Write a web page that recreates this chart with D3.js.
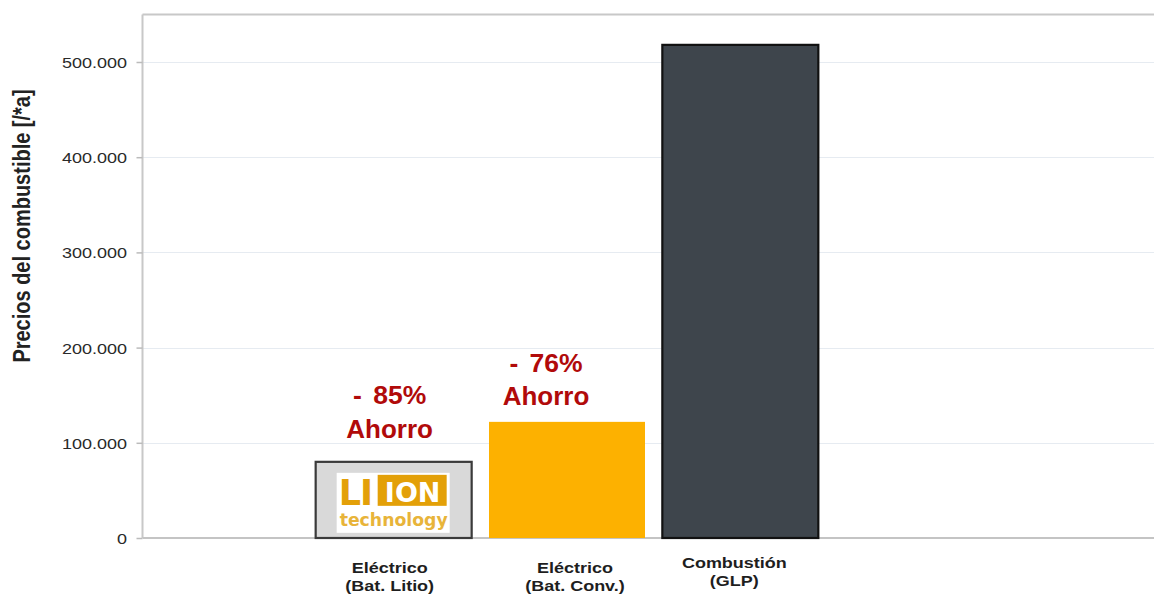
<!DOCTYPE html>
<html>
<head>
<meta charset="utf-8">
<script src="https://cdn.jsdelivr.net/npm/d3@7"></script>
<style>
  html, body { margin: 0; padding: 0; background: #fff; }
  svg { display: block; font-family: Arial, "Liberation Sans", sans-serif; }
</style>
</head>
<body>
<svg id="chart" width="1154" height="595"></svg>
<script>
const categories = ["Eléctrico\n(Bat. Litio)", "Eléctrico\n(Bat. Conv.)", "Combustión\n(GLP)"];
const values = [80000, 122000, 518000];
const barFills = ["#d9d9d9", "#fdb100", "#3e454c"];
const barStrokes = ["#3a3a3a", "none", "#111111"];
const savingsPct = ["- 85%", "- 76%", null];
const savingsWord = "Ahorro";
const yTicks = [0, 100000, 200000, 300000, 400000, 500000];
const yTitle = "Precios del combustible [/*a]";

const W = 1154, H = 595;
const SX = 1.2; // horizontal stretch of the reference's text
const plot = { left: 142.5, top: 14.5, bottom: 538 };

const svg = d3.select("#chart");

const y = d3.scaleLinear().domain([0, 500000]).range([plot.bottom, 62]);
const x = d3.scaleBand().domain(categories).range([307, 827]).paddingInner(0.1).paddingOuter(0.05);

const fmt = v => d3.format(",")(v).replace(/,/g, ".");

function stretchedText(parent, px, py, txt, opts) {
  const g = parent.append("g").attr("transform", `translate(${px},${py}) scale(${opts.sx || SX},1)`);
  return g.append("text").attr("x", 0).attr("y", 0)
    .attr("text-anchor", opts.anchor || "middle")
    .attr("font-size", opts.size).attr("font-weight", opts.weight || "normal")
    .attr("fill", opts.fill || "#222").text(txt);
}

// plot frame top
svg.append("line").attr("x1", plot.left).attr("x2", W).attr("y1", plot.top).attr("y2", plot.top)
  .attr("stroke", "#c8c8c8").attr("stroke-width", 2);

// gridlines
svg.append("g").selectAll("line").data(yTicks.filter(d => d > 0)).join("line")
  .attr("x1", plot.left).attr("x2", W)
  .attr("y1", d => Math.round(y(d)) + 0.5).attr("y2", d => Math.round(y(d)) + 0.5)
  .attr("stroke", "#e6ebf1").attr("stroke-width", 1.2);

// y axis
const yAxis = d3.axisLeft(y).tickValues(yTicks).tickFormat(fmt).tickSize(6).tickPadding(9.5);
const gy = svg.append("g").attr("transform", `translate(${plot.left},0)`).call(yAxis);
gy.select(".domain").attr("stroke", "#c8c8c8").attr("stroke-width", 2)
  .attr("d", `M0,${plot.top}V${plot.bottom}`);
gy.selectAll(".tick line").attr("stroke", "#bbbbbb").attr("stroke-width", 1.5);
gy.selectAll(".tick text").attr("font-size", 15).attr("fill", "#2a2a2a")
  .attr("font-family", "Arial, 'Liberation Sans', sans-serif")
  .attr("x", -15.5 / SX).attr("dy", "0.36em")
  .attr("transform", `scale(${SX},1)`);

// baseline
svg.append("line").attr("x1", plot.left).attr("x2", W).attr("y1", plot.bottom).attr("y2", plot.bottom)
  .attr("stroke", "#c4c4c4").attr("stroke-width", 2);

// y title
svg.append("text").attr("transform", `translate(30,226) scale(${SX},1) rotate(-90)`)
  .attr("text-anchor", "middle").attr("font-weight", "bold").attr("font-size", 20)
  .attr("fill", "#222").text(yTitle);

// bars
svg.append("g").selectAll("rect").data(categories).join("rect")
  .attr("x", d => x(d))
  .attr("y", (d, i) => y(values[i]))
  .attr("width", x.bandwidth())
  .attr("height", (d, i) => y(0) - y(values[i]))
  .attr("fill", (d, i) => barFills[i])
  .attr("stroke", (d, i) => barStrokes[i])
  .attr("stroke-width", 2.2);

// logo inside first bar
(function () {
  const c = categories[0];
  const cx = x(c) + x.bandwidth() / 2;
  const top = y(values[0]);
  const g = svg.append("g").attr("transform", `translate(${cx},${top})`);
  const orange = "#e3a008";
  g.append("rect").attr("x", -57).attr("y", 11).attr("width", 113).attr("height", 60).attr("fill", "#ffffff");
  g.append("rect").attr("x", -16).attr("y", 13).attr("width", 69).attr("height", 31).attr("fill", orange);
  g.append("text").attr("x", -55).attr("y", 43).attr("font-size", 35).attr("font-weight", "bold")
    .attr("fill", orange).attr("font-family", "'DejaVu Sans', Arial, sans-serif").attr("letter-spacing", -1).text("LI");
  g.append("text").attr("x", 19).attr("y", 40).attr("text-anchor", "middle").attr("font-size", 27)
    .attr("font-weight", "bold").attr("fill", "#ffffff").attr("font-family", "'DejaVu Sans', Arial, sans-serif").text("ION");
  g.append("text").attr("x", 0).attr("y", 64).attr("text-anchor", "middle").attr("font-size", 18)
    .attr("font-weight", "bold").attr("fill", "#e8b43a").attr("font-family", "'DejaVu Sans', Arial, sans-serif")
    .attr("textLength", 108).attr("lengthAdjust", "spacingAndGlyphs").text("technology");
})();

// savings annotations
const annDx = [-4, -21, 0];
const pctDy = [-58, -50, 0];
const wordDy = [-24, -17, 0];
const ann = svg.append("g");
categories.forEach((c, i) => {
  if (!savingsPct[i]) return;
  const cx = x(c) + x.bandwidth() / 2 + annDx[i];
  const top = y(values[i]);
  const parts = savingsPct[i].split(" ");
  const t = ann.append("text").attr("x", cx).attr("y", top + pctDy[i]).attr("text-anchor", "middle")
    .attr("font-size", 26.5).attr("font-weight", "bold").attr("fill", "#b10a0a")
    .attr("xml:space", "preserve");
  t.append("tspan").text(parts[0] + " ");
  t.append("tspan").attr("dx", 4).text(parts.slice(1).join(" "));
  ann.append("text").attr("x", cx).attr("y", top + wordDy[i]).attr("text-anchor", "middle")
    .attr("font-size", 26).attr("font-weight", "bold").attr("fill", "#b10a0a").text(savingsWord);
});

// x labels
const xl = svg.append("g");
const xlDx = [-4, 8, -6];
categories.forEach((c, i) => {
  const lines = c.split("\n");
  const cx = x(c) + x.bandwidth() / 2 + xlDx[i];
  const base = i === 2 ? 568 : 573;
  lines.forEach((ln, j) => {
    stretchedText(xl, cx, base + j * 17.5, ln, { size: 15, weight: "bold", fill: "#1e1e1e" });
  });
});
</script>
</body>
</html>
